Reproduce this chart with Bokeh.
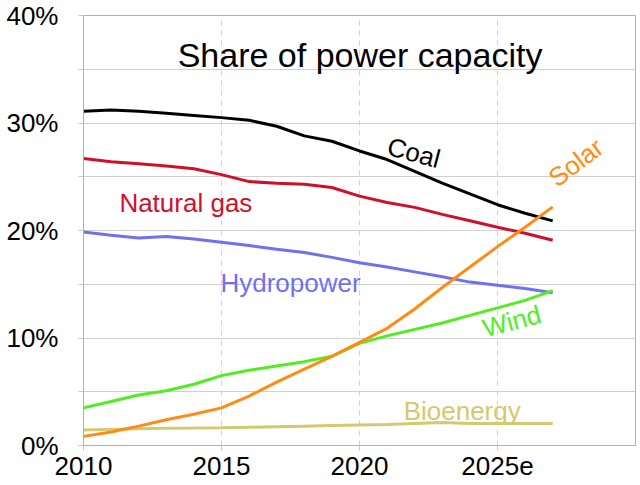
from bokeh.plotting import figure
from bokeh.models import FixedTicker
from bokeh.core.properties import value
from bokeh.embed import file_html
from bokeh.resources import INLINE

# ---- data ----
years = list(range(2010, 2028))
coal = [31.1, 31.2, 31.1, 30.9, 30.7, 30.5, 30.25, 29.7, 28.8, 28.3, 27.4, 26.6, 25.5, 24.4, 23.4, 22.4, 21.6, 20.9]
natural_gas = [26.7, 26.4, 26.2, 26.0, 25.75, 25.2, 24.55, 24.4, 24.3, 24.0, 23.2, 22.6, 22.15, 21.5, 20.9, 20.3, 19.75, 19.1]
hydropower = [19.85, 19.55, 19.3, 19.45, 19.2, 18.9, 18.6, 18.25, 17.95, 17.5, 17.0, 16.6, 16.15, 15.7, 15.2, 14.9, 14.6, 14.2]
wind = [3.5, 4.1, 4.7, 5.1, 5.7, 6.5, 7.0, 7.4, 7.8, 8.3, 9.5, 10.2, 10.8, 11.4, 12.1, 12.8, 13.5, 14.4]
solar = [0.85, 1.25, 1.8, 2.4, 2.9, 3.5, 4.6, 5.9, 7.1, 8.3, 9.6, 10.9, 12.7, 14.7, 16.6, 18.5, 20.3, 22.2]
bioenergy = [1.45, 1.5, 1.55, 1.6, 1.62, 1.65, 1.7, 1.75, 1.8, 1.85, 1.9, 1.95, 2.05, 2.15, 2.05, 2.05, 2.05, 2.05]

x_tick_values = [2010, 2015, 2020, 2025]
x_tick_labels = ["2010", "2015", "2020", "2025e"]
y_tick_values = [0, 10, 20, 30, 40]
y_tick_labels = ["0%", "10%", "20%", "30%", "40%"]
y_grid_values = [0, 5, 10, 15, 20, 25, 30, 35, 40]
x_grid_values = [2015, 2020, 2025]

title_text = "Share of power capacity"

FONT = "Liberation Sans"
GRAY = "#b0b0b0"

p = figure(width=640, height=485, x_range=(2010, 2030), y_range=(0, 40),
           output_backend="svg", toolbar_location=None,
           min_border_left=83, min_border_right=5, min_border_top=15, min_border_bottom=40)
p.outline_line_color = GRAY
p.outline_line_width = 1
p.background_fill_color = "white"
p.border_fill_color = "white"

# axes
p.xaxis.ticker = FixedTicker(ticks=x_tick_values)
p.xaxis.major_label_overrides = {v: t for v, t in zip(x_tick_values, x_tick_labels)}
p.yaxis.ticker = FixedTicker(ticks=y_grid_values)
yo = {v: "" for v in y_grid_values}
yo.update({v: t for v, t in zip(y_tick_values, y_tick_labels)})
p.yaxis.major_label_overrides = yo
for ax in (p.xaxis, p.yaxis):
    ax.axis_line_color = GRAY
    ax.major_tick_line_color = "#c8c8c8"
    ax.major_tick_out = 5
    ax.major_tick_in = 0
    ax.minor_tick_line_color = None
    ax.major_label_text_font = FONT
    ax.major_label_text_font_size = "26px"
    ax.major_label_text_color = "black"
p.xaxis.major_label_standoff = 6
p.yaxis.major_label_standoff = 20

p.ygrid.ticker = FixedTicker(ticks=y_grid_values)
p.ygrid.grid_line_color = "#d0d0d0"
p.ygrid.grid_line_width = 1
p.xgrid.ticker = FixedTicker(ticks=x_grid_values)
p.xgrid.grid_line_color = "#d0d0d0"
p.xgrid.grid_line_dash = "5 5"
p.xgrid.grid_line_width = 1

series = [
    (natural_gas, "#d0102a"),
    (hydropower, "#7070f0"),
    (bioenergy, "#d4c870"),
    (coal, "#000000"),
    (wind, "#50ee20"),
    (solar, "#ff8c10"),
]
for vals, col in series:
    p.line(years, vals, line_color=col, line_width=3)

# title inside the plot
p.text(x=[2020.02], y=[36.35], text=[title_text], text_font=value(FONT),
       text_font_size="34px", text_align="center", text_baseline="alphabetic",
       text_color="black")

# series labels
def lab(x, y, t, col, angle=0.0, align="left", baseline="alphabetic"):
    p.text(x=[x], y=[y], text=[t], angle=angle, text_font=value(FONT),
           text_font_size="26px", text_align=align, text_baseline=baseline,
           text_color=col)

lab(2021.97, 27.25, "Coal", "#000000", angle=-0.26, align="center", baseline="middle")
lab(2011.30, 22.52, "Natural gas", "#d0102a")
lab(2014.96, 15.09, "Hydropower", "#7070f0")
lab(2027.84, 26.32, "Solar", "#ff8c10", angle=0.65, align="center", baseline="middle")
lab(2025.52, 11.56, "Wind", "#50ee20", angle=0.26, align="center", baseline="middle")
lab(2021.60, 3.20, "Bioenergy", "#d4c870")

open("out.html", "w").write(file_html(p, INLINE))
